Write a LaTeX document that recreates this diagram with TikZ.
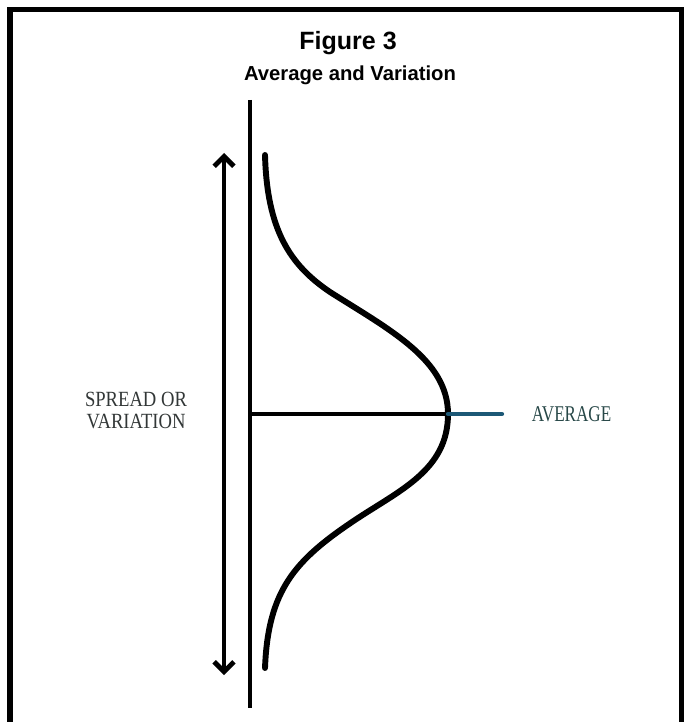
\documentclass[tikz,border=0pt]{standalone}
\usepackage{fontspec}
\setmainfont{Liberation Serif}
\newfontfamily\headfont{Liberation Sans}
\newfontfamily\spreadfont[FakeStretch=0.86]{Liberation Serif}
\newfontfamily\avgfont[FakeStretch=0.76]{Liberation Serif}
\usetikzlibrary{arrows.meta}
\definecolor{avgblue}{RGB}{28,88,118}
\definecolor{labelgray}{RGB}{50,55,55}

\begin{document}
\begin{tikzpicture}[x=0.025cm, y=-0.025cm,
                    frame/.style = {line width=3.6pt, line cap=rect},
                    axis/.style = {line width=3.2pt},
                    bell/.style = {line width=4.2pt, line cap=round, line join=round},
                    spreadarrow/.style = {line width=3.4pt, {Straight Barb[length=7pt, width=14pt]}-{Straight Barb[length=7pt, width=14pt]}},
                    avgline/.style = {line width=3pt},
                    title/.style = {font=\headfont\bfseries\fontsize{17.8}{20}\selectfont, anchor=base},
                    subtitle/.style = {font=\headfont\bfseries\fontsize{14.4}{16}\selectfont, anchor=base},
                    label/.style = {text=labelgray, inner sep=0pt}
                ]
                    \useasboundingbox (0,0) rectangle (687,722);
                    \draw[frame] (10,724) -- (10,9.5) -- (681.5,9.5) -- (681.5,724);

                    \node[title] (fig) at (348,50) {Figure 3};
                    \node[subtitle] (sub) at (350,81) {Average and Variation};

                    \coordinate (axtop) at (250,100);
                    \coordinate (axbot) at (250,708);
                    \coordinate (arrtop) at (224,153);
                    \coordinate (arrbot) at (224,675);
                    \coordinate (avgstart) at (250,414);
                    \coordinate (avgcross) at (448,414);
                    \coordinate (avgend) at (502,414);

                    \draw[axis] (axtop) -- (axbot);
                    \draw[spreadarrow] (arrtop) -- (arrbot);
                    \draw[bell] (265,155) .. controls (267,230) and (290,265) .. (330,292)
                                .. controls (390,330) and (448,360) .. (448,414)
                                .. controls (448,470) and (400,490) .. (355,520)
                                .. controls (295,560) and (268,590) .. (265,668);
                    \draw[avgline] (avgstart) -- (avgcross);
                    \draw[avgline, avgblue, line cap=round] (avgcross) -- (avgend);

                    \node[label, align=center, font=\spreadfont\fontsize{15.4}{15}\selectfont] (spread) at (136,410.5) {SPREAD OR\\VARIATION};
                    \node[label, font=\avgfont\fontsize{16}{16}\selectfont, text={rgb,255:red,40;green,72;blue,72}] (avg) at (571.5,414.5) {AVERAGE};
                \end{tikzpicture}
\end{document}
